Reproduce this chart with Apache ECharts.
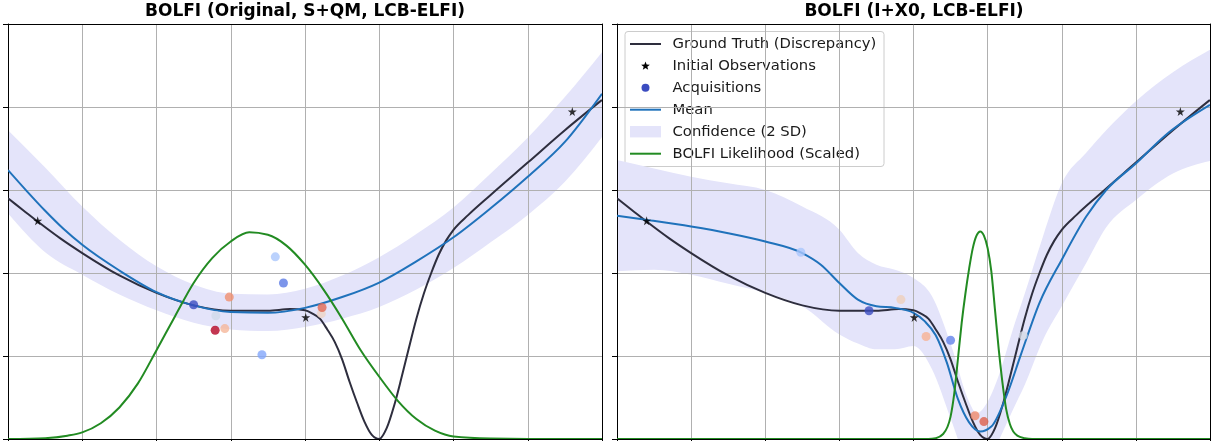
<!DOCTYPE html>
<html>
<head>
<meta charset="utf-8">
<title>BOLFI discrepancy surrogates</title>
<script src="https://cdn.jsdelivr.net/npm/echarts@6/dist/echarts.min.js"></script>
<style>
  html, body { margin: 0; padding: 0; background: #ffffff; }
  #chart { width: 1217px; height: 441px; }
</style>
</head>
<body>
<div id="chart"></div>
<script>
// ---------------- data ----------------
const panelTitles = ['BOLFI (Original, S+QM, LCB-ELFI)', 'BOLFI (I+X0, LCB-ELFI)'];
const legendLabels = ['Ground Truth (Discrepancy)', 'Initial Observations', 'Acquisitions',
                      'Mean', 'Confidence (2 SD)', 'BOLFI Likelihood (Scaled)'];

// ground-truth discrepancy (same function in both panels)
const truthX = [0, 0.2, 0.4, 0.7, 1, 1.5, 2, 2.5, 3, 3.5, 3.8, 4, 4.1, 4.2, 4.3, 4.4, 4.5, 4.6, 4.7, 4.8, 4.9,
                5, 5.1, 5.2, 5.3, 5.4, 5.5, 5.6, 5.7, 5.8, 5.9, 6, 6.2, 6.5, 7, 7.5, 8];
const truthY = [2.90, 2.76, 2.62, 2.42, 2.24, 1.97, 1.76, 1.61, 1.545, 1.545, 1.565, 1.55, 1.51, 1.45, 1.32, 1.17, 0.96, 0.69, 0.44, 0.21, 0.05,
                0.0, 0.13, 0.40, 0.74, 1.10, 1.45, 1.75, 2.00, 2.22, 2.39, 2.52, 2.70, 2.94, 3.33, 3.72, 4.085];

// initial observations (shared)
const initX = [0.40, 4.01, 7.60];
const initY = [2.63, 1.465, 3.945];

// left panel: surrogate mean
const meanLX = [0, 0.25, 0.5, 0.75, 1, 1.5, 2, 2.5, 3, 3.5, 4, 4.5, 5, 5.5, 6, 6.5, 7, 7.5, 8];
const meanLY = [3.24, 2.99, 2.75, 2.53, 2.34, 2.03, 1.77, 1.61, 1.53, 1.52, 1.58, 1.71, 1.885, 2.14, 2.43, 2.78, 3.16, 3.58, 4.16];
// left panel: confidence band
const bandLX  = [0, 0.5, 1, 1.5, 2, 2.5, 3, 3.5, 4, 4.5, 5, 5.5, 6, 6.5, 7, 7.5, 8];
const bandLUp = [3.72, 3.27, 2.80, 2.40, 2.08, 1.86, 1.75, 1.74, 1.81, 1.97, 2.19, 2.47, 2.79, 3.20, 3.63, 4.12, 4.66];
const bandLLo = [2.72, 2.25, 1.98, 1.74, 1.55, 1.40, 1.32, 1.30, 1.35, 1.45, 1.59, 1.80, 2.06, 2.37, 2.70, 3.10, 3.64];
// left panel: scaled likelihood
const likeLX = [0, 0.5, 0.8, 1, 1.25, 1.5, 1.75, 2, 2.25, 2.5, 2.75, 3, 3.25, 3.5, 3.75, 4, 4.25, 4.5, 4.75, 5, 5.25, 5.5, 5.75, 6, 6.5, 7, 8];
const likeLY = [0, 0.01, 0.04, 0.08, 0.19, 0.38, 0.67, 1.07, 1.48, 1.88, 2.18, 2.38, 2.49, 2.46, 2.33, 2.10, 1.80, 1.45, 1.07, 0.75, 0.46, 0.24, 0.10, 0.03, 0.005, 0, 0];
// left panel: acquisitions (in acquisition order)
const acqLX = [2.50, 3.71, 3.42, 3.60, 2.80, 4.22, 2.92, 2.98, 4.23, 2.79];
const acqLY = [1.617, 1.88, 1.015, 2.195, 1.485, 1.51, 1.33, 1.71, 1.585, 1.31];

// right panel: surrogate mean
const meanRX = [0, 0.4, 1, 1.5, 2, 2.5, 2.75, 3, 3.25, 3.5, 3.75, 4, 4.15, 4.3, 4.45, 4.6, 4.75, 4.9, 5.05,
                5.25, 5.45, 5.7, 6, 6.33, 6.6, 7, 7.4, 8];
const meanRY = [2.69, 2.64, 2.56, 2.48, 2.38, 2.24, 2.10, 1.88, 1.68, 1.60, 1.58, 1.52, 1.42, 1.25, 0.92, 0.48, 0.20, 0.09, 0.15,
                0.51, 1.02, 1.64, 2.16, 2.68, 3.0, 3.32, 3.66, 4.025];
// right panel: confidence band
const bandRX  = [0, 0.5, 1, 1.5, 2, 2.5, 3, 3.25, 3.5, 3.75, 4, 4.25, 4.5, 4.75, 4.85, 5, 5.16, 5.34, 5.5, 5.75, 6, 6.33, 6.6, 7, 7.5, 8];
const bandRUp = [3.36, 3.26, 3.16, 3.08, 3.0, 2.80, 2.52, 2.24, 2.10, 2.04, 1.94, 1.72, 1.15, 0.45, 0.31, 0.45, 0.79, 1.32, 1.75, 2.45, 3.08, 3.45, 3.72, 4.07, 4.42, 4.69];
const bandRLo = [2.02, 2.04, 1.98, 1.87, 1.76, 1.60, 1.26, 1.15, 1.08, 1.08, 1.12, 0.84, 0.25, -0.35, -0.5, -0.3, 0.0, 0.35, 0.65, 1.2, 1.60, 2.12, 2.55, 2.88, 3.2, 3.35];
// right panel: scaled likelihood
const likeRX = [0, 4.2, 4.3, 4.4, 4.5, 4.55, 4.6, 4.65, 4.7, 4.75, 4.8, 4.85, 4.9, 4.95, 5.0, 5.05, 5.1, 5.15, 5.2, 5.25, 5.3, 5.4, 5.5, 5.6, 8];
const likeRY = [0, 0, 0.01, 0.06, 0.27, 0.55, 0.97, 1.40, 1.75, 2.05, 2.30, 2.45, 2.50, 2.45, 2.30, 2.02, 1.55, 1.08, 0.68, 0.36, 0.18, 0.04, 0.01, 0, 0];
// right panel: acquisitions (in acquisition order)
const acqRX = [3.40, 4.50, 2.48, 5.48, 3.83, 4.17, 4.83, 4.95];
const acqRY = [1.545, 1.19, 2.25, 1.245, 1.68, 1.235, 0.28, 0.21];

// ---------------- styling ----------------
const FONT = '"DejaVu Sans", "Noto Sans", sans-serif';
const C_TRUTH = '#2e2e3e';
const C_MEAN = '#1f72bb';
const C_LIKE = '#228b22';
const C_BAND = '#e4e4fa';
const C_GRID = '#b0b0b0';
const acqColorsL = ['#3b4cc0', '#5b7ae5', '#82a6fb', '#aac7fd', '#cfdaea', '#ecd3c5', '#f5b79a', '#f0906f', '#e16853', '#b40426'];
const acqColorsR = ['#3b4cc0', '#6282ea', '#aac7fd', '#d5dbe5', '#efcfbb', '#f7b194', '#ef8a6c', '#dd5f4b'];
const STAR = 'path://M50,0 L61,35 L98,35 L68,57 L79,91 L50,70 L21,91 L32,57 L2,35 L39,35 Z';

const zip = (xs, ys) => xs.map((x, i) => [x, ys[i]]);

const grids = [
  { left: 8, top: 24, width: 594, height: 415 },
  { left: 617, top: 24, width: 593, height: 415 }
];

function mainX(g) {
  return {
    gridIndex: g, type: 'value', min: 0, max: 8, interval: 1, z: 2,
    axisLine: { show: true, onZero: false, lineStyle: { color: '#000', width: 1 } },
    axisTick: { show: true, length: 5, lineStyle: { color: '#000', width: 1 } },
    axisLabel: { show: false },
    splitLine: { show: true, lineStyle: { color: C_GRID, width: 1 } }
  };
}
function frameX(g) {
  return {
    gridIndex: g, type: 'value', position: 'top', min: 0, max: 8, z: 2,
    axisLine: { show: true, onZero: false, lineStyle: { color: '#000', width: 1 } },
    axisTick: { show: false }, axisLabel: { show: false }, splitLine: { show: false }
  };
}
function mainY(g) {
  return {
    gridIndex: g, type: 'value', min: 0, max: 5, interval: 1, z: 2,
    axisLine: { show: true, onZero: false, lineStyle: { color: '#000', width: 1 } },
    axisTick: { show: true, length: 5, lineStyle: { color: '#000', width: 1 } },
    axisLabel: { show: false },
    splitLine: { show: true, lineStyle: { color: C_GRID, width: 1 } }
  };
}
function frameY(g) {
  return {
    gridIndex: g, type: 'value', position: 'right', min: 0, max: 5, z: 2,
    axisLine: { show: true, onZero: false, lineStyle: { color: '#000', width: 1 } },
    axisTick: { show: false }, axisLabel: { show: false }, splitLine: { show: false }
  };
}

// ---- monotone cubic (in x) curve through pixel points, as bezier path commands ----
function sgn(v) { return v < 0 ? -1 : 1; }
function tangents(p) {
  const n = p.length, m = new Array(n).fill(0);
  for (let i = 1; i < n - 1; i++) {
    const h0 = p[i][0] - p[i - 1][0], h1 = p[i + 1][0] - p[i][0];
    const s0 = (p[i][1] - p[i - 1][1]) / h0, s1 = (p[i + 1][1] - p[i][1]) / h1;
    const q = (s0 * h1 + s1 * h0) / (h0 + h1);
    m[i] = (sgn(s0) + sgn(s1)) * Math.min(Math.abs(s0), Math.abs(s1), 0.5 * Math.abs(q)) || 0;
  }
  if (n > 1) {
    const hA = p[1][0] - p[0][0], hB = p[n - 1][0] - p[n - 2][0];
    m[0] = (3 * (p[1][1] - p[0][1]) / hA - (n > 2 ? m[1] : 0)) / 2;
    m[n - 1] = (3 * (p[n - 1][1] - p[n - 2][1]) / hB - (n > 2 ? m[n - 2] : 0)) / 2;
  }
  return m;
}
const f2 = v => v.toFixed(2);
function curveCmds(p, lead, reverse) {
  const m = tangents(p), n = p.length;
  let s;
  if (!reverse) {
    s = lead + f2(p[0][0]) + ',' + f2(p[0][1]);
    for (let i = 0; i < n - 1; i++) {
      const dx = (p[i + 1][0] - p[i][0]) / 3;
      s += ' C' + f2(p[i][0] + dx) + ',' + f2(p[i][1] + dx * m[i]) + ' ' +
           f2(p[i + 1][0] - dx) + ',' + f2(p[i + 1][1] - dx * m[i + 1]) + ' ' +
           f2(p[i + 1][0]) + ',' + f2(p[i + 1][1]);
    }
  } else {
    s = lead + f2(p[n - 1][0]) + ',' + f2(p[n - 1][1]);
    for (let i = n - 1; i > 0; i--) {
      const dx = (p[i][0] - p[i - 1][0]) / 3;
      s += ' C' + f2(p[i][0] - dx) + ',' + f2(p[i][1] - dx * m[i]) + ' ' +
           f2(p[i - 1][0] + dx) + ',' + f2(p[i - 1][1] + dx * m[i - 1]) + ' ' +
           f2(p[i - 1][0]) + ',' + f2(p[i - 1][1]);
    }
  }
  return s;
}
function clipRect(cs) {
  return { type: 'rect', shape: { x: cs.x, y: cs.y, width: cs.width, height: cs.height } };
}

function bandSeries(axisIdx, bx, up, lo) {
  return {
    type: 'custom', name: legendLabels[4], xAxisIndex: axisIdx, yAxisIndex: axisIdx,
    data: [0], silent: true, animation: false, z: 1, clip: true,
    renderItem: function (params, api) {
      const top = bx.map((x, i) => api.coord([x, up[i]]));
      const bot = bx.map((x, i) => api.coord([x, lo[i]]));
      const d = curveCmds(top, 'M', false) + ' ' + curveCmds(bot, 'L', true) + ' Z';
      return {
        type: 'path', shape: { pathData: d },
        style: { fill: C_BAND, stroke: null },
        clipPath: clipRect(params.coordSys)
      };
    }
  };
}

function curveSeries(axisIdx, name, xs, ys, color) {
  return {
    type: 'custom', name: name, xAxisIndex: axisIdx, yAxisIndex: axisIdx,
    data: [0], silent: true, animation: false, z: 3, clip: true,
    renderItem: function (params, api) {
      const pts = xs.map((x, i) => api.coord([x, ys[i]]));
      return {
        type: 'path', shape: { pathData: curveCmds(pts, 'M', false) },
        style: { fill: null, stroke: color, lineWidth: 2, lineJoin: 'round', lineCap: 'butt' },
        clipPath: clipRect(params.coordSys)
      };
    }
  };
}

function panelSeries(axisIdx, d) {
  const common = { xAxisIndex: axisIdx, yAxisIndex: axisIdx, silent: true, animation: false };
  return [
    bandSeries(axisIdx, d.bandX, d.bandUp, d.bandLo),
    curveSeries(axisIdx, legendLabels[0], truthX, truthY, C_TRUTH),
    curveSeries(axisIdx, legendLabels[3], d.meanX, d.meanY, C_MEAN),
    curveSeries(axisIdx, legendLabels[5], d.likeX, d.likeY, C_LIKE),
    Object.assign({}, common, {
      type: 'scatter', name: legendLabels[1], data: zip(initX, initY),
      symbol: STAR, symbolSize: 9, itemStyle: { color: '#000' }, z: 5
    }),
    Object.assign({}, common, {
      type: 'scatter', name: legendLabels[2],
      data: d.acqX.map((x, i) => ({ value: [x, d.acqY[i]], itemStyle: { color: d.acqColors[i] } })),
      symbol: 'circle', symbolSize: 9, z: 4
    })
  ];
}

// five-pointed star outline for the legend key
function starPoints(cx, cy, rOut, rIn) {
  const pts = [];
  for (let k = 0; k < 10; k++) {
    const r = k % 2 === 0 ? rOut : rIn;
    const a = -Math.PI / 2 + k * Math.PI / 5;
    pts.push([cx + r * Math.cos(a), cy + r * Math.sin(a)]);
  }
  return pts;
}

// legend box drawn in the right panel
const legendRows = [44, 65.7, 87.7, 109.7, 131.7, 153.7];
const legendEls = [
  { type: 'rect', shape: { x: 625, y: 31.5, width: 259, height: 135, r: 3 },
    style: { fill: 'rgba(255,255,255,0.8)', stroke: '#cccccc', lineWidth: 1 } },
  { type: 'line', shape: { x1: 630, y1: legendRows[0], x2: 661, y2: legendRows[0] }, style: { stroke: C_TRUTH, lineWidth: 2 } },
  { type: 'polygon', shape: { points: starPoints(645.5, legendRows[1] + 0.4, 4.6, 1.9) }, style: { fill: '#000' } },
  { type: 'circle', shape: { cx: 645.5, cy: legendRows[2], r: 4 }, style: { fill: acqColorsL[0] } },
  { type: 'line', shape: { x1: 630, y1: legendRows[3], x2: 661, y2: legendRows[3] }, style: { stroke: C_MEAN, lineWidth: 2 } },
  { type: 'rect', shape: { x: 630, y: legendRows[4] - 5.7, width: 31, height: 11.4 }, style: { fill: C_BAND } },
  { type: 'line', shape: { x1: 630, y1: legendRows[5], x2: 661, y2: legendRows[5] }, style: { stroke: C_LIKE, lineWidth: 2 } }
].concat(legendLabels.map((t, i) => ({
  type: 'text', x: 672.5, y: legendRows[i],
  style: { text: t, font: '14.8px ' + FONT, fill: '#1a1a1a', align: 'left', verticalAlign: 'middle' }
})));

const titleEls = panelTitles.map((t, i) => ({
  type: 'text', x: i === 0 ? 305 : 914, y: 12,
  style: { text: t, font: 'bold 17px ' + FONT, fill: '#000', align: 'center', verticalAlign: 'middle' }
}));

const chart = echarts.init(document.getElementById('chart'), null, { renderer: 'canvas' });
chart.setOption({
  animation: false,
  backgroundColor: '#ffffff',
  grid: grids,
  xAxis: [mainX(0), frameX(0), mainX(1), frameX(1)],
  yAxis: [mainY(0), frameY(0), mainY(1), frameY(1)],
  series: panelSeries(0, {
    meanX: meanLX, meanY: meanLY, bandX: bandLX, bandUp: bandLUp, bandLo: bandLLo,
    likeX: likeLX, likeY: likeLY, acqX: acqLX, acqY: acqLY, acqColors: acqColorsL
  }).concat(panelSeries(2, {
    meanX: meanRX, meanY: meanRY, bandX: bandRX, bandUp: bandRUp, bandLo: bandRLo,
    likeX: likeRX, likeY: likeRY, acqX: acqRX, acqY: acqRY, acqColors: acqColorsR
  })),
  graphic: [{ type: 'group', z: 100, children: titleEls.concat(legendEls) }]
});
</script>
</body>
</html>
